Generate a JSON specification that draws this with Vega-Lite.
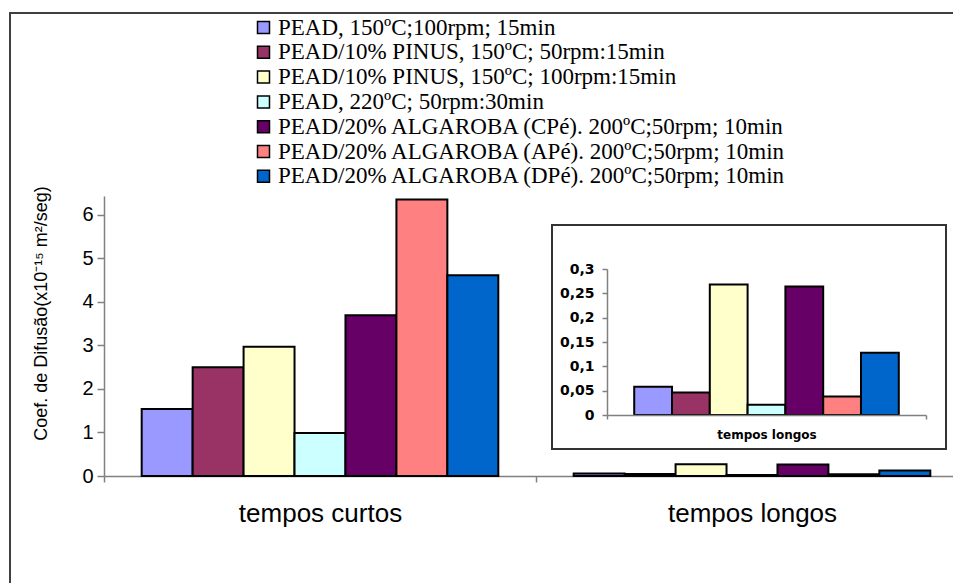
{
  "$schema": "https://vega.github.io/schema/vega-lite/v6.json",
  "autosize": {"type": "none"},
  "padding": {"left": 104, "top": 196, "right": 0, "bottom": 107},
  "width": 849,
  "height": 280,
  "background": "white",
  "config": {"view": {"stroke": null}, "axis": {"grid": false}},
  "datasets": {
    "d": [
      {"tempo": "tempos curtos", "amostra": "PEAD, 150ºC;100rpm; 15min", "coef": 1.54},
      {"tempo": "tempos curtos", "amostra": "PEAD/10% PINUS, 150ºC; 50rpm:15min", "coef": 2.5},
      {"tempo": "tempos curtos", "amostra": "PEAD/10% PINUS, 150ºC; 100rpm:15min", "coef": 2.97},
      {"tempo": "tempos curtos", "amostra": "PEAD, 220ºC; 50rpm:30min", "coef": 0.99},
      {"tempo": "tempos curtos", "amostra": "PEAD/20% ALGAROBA (CPé). 200ºC;50rpm; 10min", "coef": 3.69},
      {"tempo": "tempos curtos", "amostra": "PEAD/20% ALGAROBA (APé). 200ºC;50rpm; 10min", "coef": 6.35},
      {"tempo": "tempos curtos", "amostra": "PEAD/20% ALGAROBA (DPé). 200ºC;50rpm; 10min", "coef": 4.61},
      {"tempo": "tempos longos", "amostra": "PEAD, 150ºC;100rpm; 15min", "coef": 0.058},
      {"tempo": "tempos longos", "amostra": "PEAD/10% PINUS, 150ºC; 50rpm:15min", "coef": 0.046},
      {"tempo": "tempos longos", "amostra": "PEAD/10% PINUS, 150ºC; 100rpm:15min", "coef": 0.268},
      {"tempo": "tempos longos", "amostra": "PEAD, 220ºC; 50rpm:30min", "coef": 0.021},
      {"tempo": "tempos longos", "amostra": "PEAD/20% ALGAROBA (CPé). 200ºC;50rpm; 10min", "coef": 0.264},
      {"tempo": "tempos longos", "amostra": "PEAD/20% ALGAROBA (APé). 200ºC;50rpm; 10min", "coef": 0.038},
      {"tempo": "tempos longos", "amostra": "PEAD/20% ALGAROBA (DPé). 200ºC;50rpm; 10min", "coef": 0.128}
    ]
  },
  "data": {"name": "d"},
  "layer": [
    {
      "data": {"values": [{}]},
      "mark": {"type": "rect", "fill": "transparent", "stroke": "#404040", "strokeWidth": 2},
      "encoding": {
        "x": {"datum": 0, "type": "quantitative", "scale": {"domain": [0, 1], "range": [-94, 880]}, "axis": null},
        "x2": {"datum": 1},
        "y": {"datum": 0, "type": "quantitative", "scale": {"domain": [0, 1], "range": [420, -183]}, "axis": null},
        "y2": {"datum": 1}
      }
    },
    {
      "mark": {"type": "bar", "stroke": "black", "strokeWidth": 2},
      "encoding": {
        "x": {
          "field": "tempo", "type": "nominal", "sort": ["tempos curtos", "tempos longos"],
          "scale": {"range": [0, 864], "paddingInner": 0, "paddingOuter": 0},
          "title": null,
          "axis": {
            "orient": "bottom", "tickBand": "extent", "tickSize": 6, "labelAngle": 0,
            "labelFont": "Liberation Sans", "labelFontSize": 26, "labelPadding": 18, "labelColor": "black",
            "domainColor": "#808080", "tickColor": "#808080", "domainWidth": 1.5, "tickWidth": 1.5
          }
        },
        "xOffset": {
          "field": "amostra", "type": "nominal",
          "sort": ["PEAD, 150ºC;100rpm; 15min", "PEAD/10% PINUS, 150ºC; 50rpm:15min", "PEAD/10% PINUS, 150ºC; 100rpm:15min", "PEAD, 220ºC; 50rpm:30min", "PEAD/20% ALGAROBA (CPé). 200ºC;50rpm; 10min", "PEAD/20% ALGAROBA (APé). 200ºC;50rpm; 10min", "PEAD/20% ALGAROBA (DPé). 200ºC;50rpm; 10min"],
          "scale": {"paddingInner": 0, "paddingOuter": 0.74}
        },
        "y": {
          "field": "coef", "type": "quantitative",
          "scale": {"domain": [0, 6.43], "nice": false},
          "title": "Coef. de Difusão(x10⁻¹⁵ m²/seg)",
          "axis": {
            "orient": "left", "values": [0, 1, 2, 3, 4, 5, 6], "tickSize": 7,
            "labelFont": "Liberation Sans", "labelFontSize": 20, "labelPadding": 4, "labelColor": "black",
            "domainColor": "#808080", "tickColor": "#808080", "domainWidth": 1.5, "tickWidth": 1.5,
            "titleFont": "Liberation Sans", "titleFontSize": 18, "titleFontWeight": "normal", "titleColor": "black",
            "titleX": -63, "titleY": 117, "titleAlign": "center", "titleBaseline": "middle", "titleAngle": -90
          }
        },
        "color": {
          "field": "amostra", "type": "nominal",
          "scale": {
            "domain": ["PEAD, 150ºC;100rpm; 15min", "PEAD/10% PINUS, 150ºC; 50rpm:15min", "PEAD/10% PINUS, 150ºC; 100rpm:15min", "PEAD, 220ºC; 50rpm:30min", "PEAD/20% ALGAROBA (CPé). 200ºC;50rpm; 10min", "PEAD/20% ALGAROBA (APé). 200ºC;50rpm; 10min", "PEAD/20% ALGAROBA (DPé). 200ºC;50rpm; 10min"],
            "range": ["#9999FF", "#993366", "#FFFFCC", "#CCFFFF", "#660066", "#FF8080", "#0066CC"]
          },
          "legend": {
            "orient": "none", "legendX": 148, "legendY": -180, "title": null, "padding": 0,
            "symbolType": "square", "symbolSize": 144, "symbolStrokeColor": "black", "symbolStrokeWidth": 1.5,
            "labelFont": "Liberation Serif", "labelFontSize": 23, "labelColor": "black", "labelLimit": 0,
            "rowPadding": 0.8, "labelOffset": 3
          }
        }
      }
    },
    {
      "data": {"values": [{}]},
      "mark": {"type": "rect", "fill": "white", "stroke": "#333333", "strokeWidth": 2},
      "encoding": {
        "x": {"datum": 0, "type": "quantitative", "scale": {"domain": [0, 1], "range": [448, 842]}, "axis": null},
        "x2": {"datum": 1},
        "y": {"datum": 0, "type": "quantitative", "scale": {"domain": [0, 1], "range": [253, 29]}, "axis": null},
        "y2": {"datum": 1}
      }
    },
    {
      "transform": [{"filter": "datum.tempo == 'tempos longos'"}],
      "mark": {"type": "bar", "stroke": "black", "strokeWidth": 2},
      "encoding": {
        "x": {
          "field": "tempo", "type": "nominal",
          "scale": {"range": [503, 822], "paddingInner": 0, "paddingOuter": 0},
          "title": null,
          "axis": {
            "orient": "bottom", "offset": -61, "zindex": 1, "tickBand": "extent", "tickSize": 4, "labelAngle": 0,
            "labelFont": "DejaVu Sans", "labelFontWeight": "bold", "labelFontSize": 12, "labelPadding": 10, "labelColor": "black",
            "domainColor": "#808080", "tickColor": "#808080", "domainWidth": 1.5, "tickWidth": 1.5
          }
        },
        "xOffset": {
          "field": "amostra", "type": "nominal",
          "sort": ["PEAD, 150ºC;100rpm; 15min", "PEAD/10% PINUS, 150ºC; 50rpm:15min", "PEAD/10% PINUS, 150ºC; 100rpm:15min", "PEAD, 220ºC; 50rpm:30min", "PEAD/20% ALGAROBA (CPé). 200ºC;50rpm; 10min", "PEAD/20% ALGAROBA (APé). 200ºC;50rpm; 10min", "PEAD/20% ALGAROBA (DPé). 200ºC;50rpm; 10min"],
          "scale": {"paddingInner": 0, "paddingOuter": 0.72}
        },
        "y": {
          "field": "coef", "type": "quantitative",
          "scale": {"domain": [0, 0.3], "nice": false, "range": [219, 73]},
          "title": null,
          "axis": {
            "orient": "left", "offset": -503, "zindex": 1, "values": [0, 0.05, 0.1, 0.15, 0.2, 0.25, 0.3],
            "labelExpr": "replace(format(datum.value, '~g'), '.', ',')",
            "tickSize": 5, "labelFont": "DejaVu Sans", "labelFontWeight": "bold", "labelFontSize": 14, "labelPadding": 8, "labelColor": "black",
            "domainColor": "#808080", "tickColor": "#808080", "domainWidth": 1.5, "tickWidth": 1.5
          }
        },
        "color": {"field": "amostra", "type": "nominal", "legend": null}
      }
    }
  ],
  "resolve": {
    "scale": {"x": "independent", "y": "independent", "xOffset": "independent"},
    "axis": {"x": "independent", "y": "independent"}
  }
}
